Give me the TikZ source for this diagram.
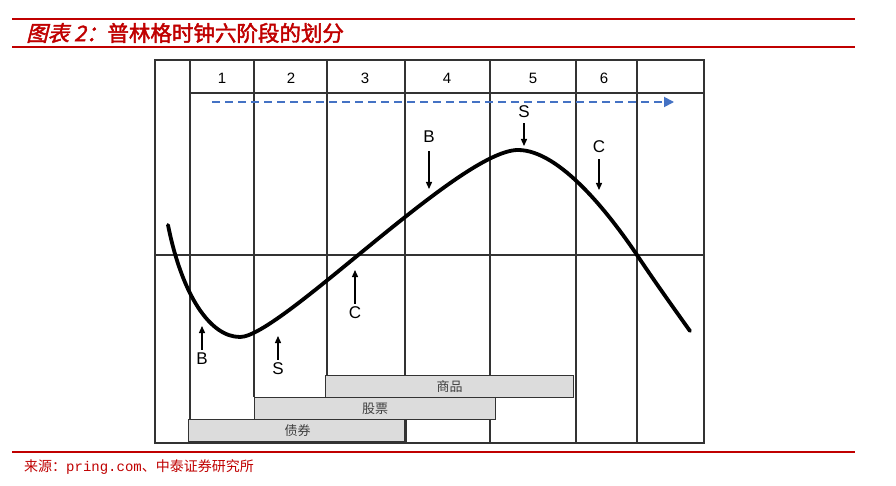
\documentclass[tikz,border=0pt]{standalone}
\usepackage{fontspec}
\setmainfont{Liberation Sans}
\newfontfamily\cjk{Noto Sans CJK SC}
\newfontfamily\cjkbold[FakeBold=2]{Noto Sans CJK SC}
\newfontfamily\cjkboldit[FakeBold=2,FakeSlant=0.25]{Noto Sans CJK SC}
\newfontfamily\monofnt{Liberation Mono}
\usetikzlibrary{arrows.meta}
\definecolor{titlered}{HTML}{C00000}
\definecolor{gridgray}{HTML}{333333}
\definecolor{barfill}{HTML}{DCDCDC}
\definecolor{dashblue}{HTML}{4472C4}
\begin{document}
\begin{tikzpicture}[x=1pt,y=-1pt,
  redrule/.style={draw=titlered,line width=2.2pt},
  gridline/.style={draw=gridgray,line width=1.4pt},
  framebox/.style={draw=gridgray,line width=1.8pt},
  bar/.style={draw=gridgray,fill=barfill,line width=1.4pt},
  barlabel/.style={text=black!75,font=\cjk\fontsize{13}{13}\selectfont},
  numlabel/.style={font=\fontsize{15}{15}\selectfont,inner sep=0pt},
  letter/.style={font=\fontsize{17}{17}\selectfont,inner sep=0pt},
  sigarrow/.style={draw=black,line width=1.3pt,-{Triangle[length=7pt,width=6pt]}},
  curve/.style={draw=black,line width=3.8pt,line cap=round,line join=round}
]
\useasboundingbox (0,0) rectangle (896,486);
\fill[white] (0,0) rectangle (896,486);

% title and rules
\draw[redrule] (12,19) -- (855,19);
\draw[redrule] (12,47) -- (855,47);
\node[anchor=west,text=titlered,inner sep=0pt] (title) at (26,33)
  {\fontsize{21.5}{21.5}\cjkboldit\selectfont 图表 2：\cjkbold 普林格时钟六阶段的划分};

% footer
\draw[redrule] (12,452) -- (855,452);
\node[anchor=west,text=titlered,inner sep=0pt] (src) at (24,467)
  {\fontsize{14}{14}\cjk\selectfont 来源：{\monofnt pring.com}、中泰证券研究所};

% bars
\node[bar,minimum width=218pt,minimum height=22pt,inner sep=0pt,anchor=north west] (bond) at (188,419) {};
\node[barlabel] at (bond.center) {债券};
\node[bar,minimum width=241pt,minimum height=22pt,inner sep=0pt,anchor=north west] (stock) at (254,397) {};
\node[barlabel] at (stock.center) {股票};
\node[bar,minimum width=248pt,minimum height=22pt,inner sep=0pt,anchor=north west] (comm) at (325,375) {};
\node[barlabel] at (comm.center) {商品};

% grid
\draw[gridline] (190,60) -- (190,419);
\draw[gridline] (254,60) -- (254,397);
\draw[gridline] (327,60) -- (327,375);
\draw[gridline] (405,60) -- (405,375) (405,419) -- (405,443);
\draw[gridline] (490,60) -- (490,375) (490,419) -- (490,443);
\draw[gridline] (576,60) -- (576,443);
\draw[gridline] (637,60) -- (637,443);
\draw[gridline] (190,93) -- (704,93);
\draw[gridline] (155,255) -- (704,255);
\draw[framebox] (155,60) rectangle (704,443);

% header numbers
\node[numlabel] (n1) at (222,78) {1};
\node[numlabel] (n2) at (291,78) {2};
\node[numlabel] (n3) at (365,78) {3};
\node[numlabel] (n4) at (447,78) {4};
\node[numlabel] (n5) at (533,78) {5};
\node[numlabel] (n6) at (604,78) {6};

% time arrow
\coordinate (ts) at (212,102);
\coordinate (te) at (674,102);
\draw[dashblue,line width=1.8pt,dash pattern=on 8pt off 5pt,-{Triangle[length=10pt,width=10pt]}] (ts) -- (te);

% the clock curve
\draw[curve] (168,225) .. controls (182,295) and (210,337) .. (240,337)
  .. controls (280,337) and (460,150) .. (518,150)
  .. controls (560,150) and (610,215) .. (637,255)
  .. controls (655,282) and (675,310) .. (690,331);

% signal labels and arrows (lower)
\node[letter] (bL) at (202,359) {B};
\coordinate (bLt) at (202,326);
\draw[sigarrow] (bL.north) ++(0,-3) -- (bLt);
\node[letter] (sL) at (278,369) {S};
\coordinate (sLt) at (278,336);
\draw[sigarrow] (sL.north) ++(0,-3) -- (sLt);
\node[letter] (cL) at (355,313) {C};
\coordinate (cLt) at (355,270);
\draw[sigarrow] (cL.north) ++(0,-3) -- (cLt);

% signal labels and arrows (upper)
\node[letter] (bU) at (429,137) {B};
\coordinate (bUt) at (429,189);
\draw[sigarrow] (bU.south) ++(0,8) -- (bUt);
\node[letter] (sU) at (524,112) {S};
\coordinate (sUt) at (524,146);
\draw[sigarrow] (sU.south) ++(0,5) -- (sUt);
\node[letter] (cU) at (599,147) {C};
\coordinate (cUt) at (599,190);
\draw[sigarrow] (cU.south) ++(0,6) -- (cUt);
\end{tikzpicture}
\end{document}
